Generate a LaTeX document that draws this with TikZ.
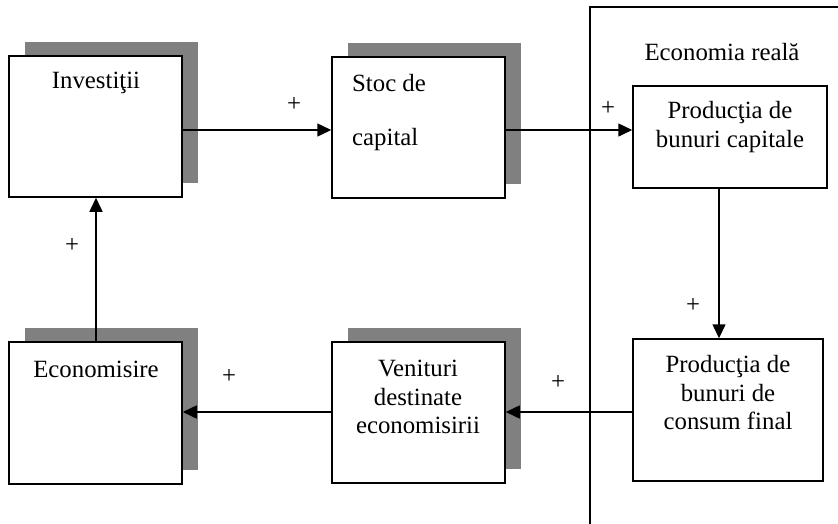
\documentclass[tikz,border=0pt]{standalone}
\usepackage{fontspec}
\setmainfont{Liberation Serif}
\usetikzlibrary{arrows.meta,shadows}
\begin{document}
\begin{tikzpicture}[x=1pt,y=-1pt,
  every node/.style={font=\fontsize{24.8}{28.5}\selectfont},
  box/.style={draw,line width=1.5pt,fill=white,inner sep=0pt},
  shbox/.style={box,drop shadow={shadow xshift=16pt,shadow yshift=14pt,fill=black!50,opacity=1}},
  txt/.style={inner sep=0pt,align=center},
  sign/.style={inner sep=0pt},
  arr/.style={line width=1.5pt,-{Triangle[length=14pt,width=13pt]}}]
\useasboundingbox (0,0) rectangle (838,523);
% frame around the real economy
\draw[line width=1.4pt] (590,540) -- (590,7) -- (850,7);
\node[txt] (er) at (722,52) {Economia reală};
% boxes
\node[shbox,minimum width=173pt,minimum height=141pt] (inv) at (95.5,126.5) {};
\node[shbox,minimum width=173pt,minimum height=141pt] (stoc) at (418.5,127.5) {};
\node[shbox,minimum width=173pt,minimum height=142pt] (eco) at (95.5,413) {};
\node[shbox,minimum width=173pt,minimum height=141pt] (ven) at (418.5,412.5) {};
\node[box,minimum width=194pt,minimum height=102pt] (pcap) at (730,137) {};
\node[box,minimum width=190pt,minimum height=142pt] (pcons) at (728,410) {};
% box texts
\node[txt] (tinv) at (96,83) {Investiţii};
\node[txt,anchor=west] (tstoc1) at (352,83) {Stoc de};
\node[txt,anchor=west] (tstoc2) at (352,140) {capital};
\node[txt] (teco) at (96,369) {Economisire};
\node[txt] (tven) at (418,397) {Venituri\\destinate\\economisirii};
\node[txt] (tpcap) at (730,127) {Producţia de\\bunuri capitale};
\node[txt] (tpcons) at (728,393) {Producţia de\\bunuri de\\consum final};
% connectors
\coordinate (a1) at ([yshift=-3.5pt]inv.east);
\draw[arr] (a1) -- (a1 -| stoc.west);
\coordinate (a2) at ([yshift=-2.5pt]stoc.east);
\draw[arr] (a2) -- (a2 -| pcap.west);
\coordinate (a3) at ([xshift=-11pt]pcap.south);
\draw[arr] (a3) -- (a3 |- pcons.north);
\coordinate (a4) at ([yshift=-2pt]pcons.west);
\draw[arr] (a4) -- (a4 -| ven.east);
\coordinate (a5) at ([yshift=0.5pt]ven.west);
\draw[arr] (a5) -- (a5 -| eco.east);
\coordinate (a6) at ([xshift=0.5pt]eco.north);
\draw[arr] (a6) -- (a6 |- inv.south);
% signs
\node[sign] (s1) at (294,104) {+};
\node[sign] (s2) at (608,108) {+};
\node[sign] (s3) at (693,305) {+};
\node[sign] (s4) at (558,382) {+};
\node[sign] (s5) at (229,376) {+};
\node[sign] (s6) at (72,245) {+};
\end{tikzpicture}
\end{document}
